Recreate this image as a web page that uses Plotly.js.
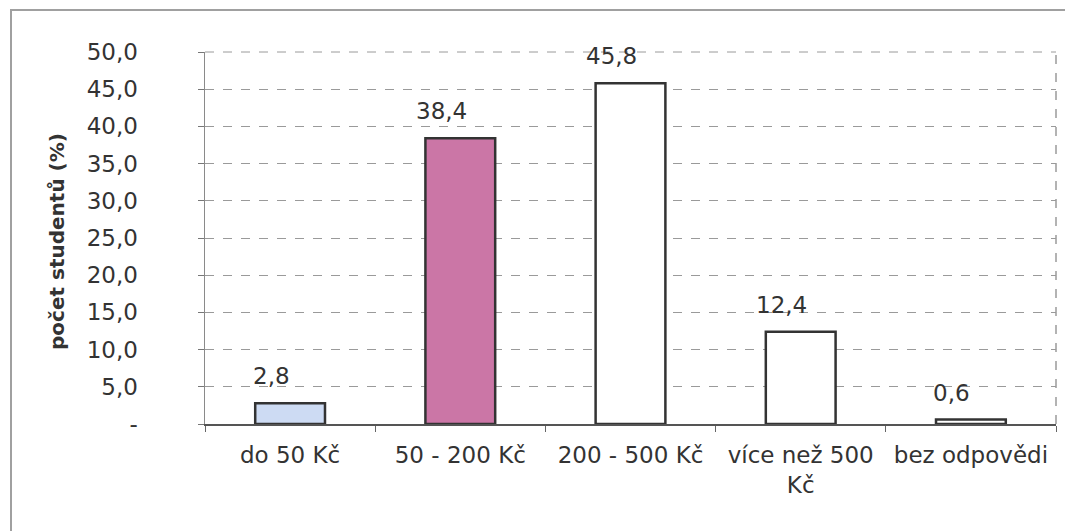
<!DOCTYPE html>
<html>
<head>
<meta charset="utf-8">
<script src="https://cdn.plot.ly/plotly-3.0.1.min.js"></script>
<style>
  html, body { margin: 0; padding: 0; background: #fff; }
  #wrap { position: relative; width: 1065px; height: 531px; }
  #chart { width: 1065px; height: 531px; }
  #frame { position: absolute; left: 10px; top: 9px; width: 1070px; height: 540px;
           border-left: 2px solid #a0a0a0; border-top: 2px solid #a0a0a0; pointer-events: none; }
</style>
</head>
<body>
<div id="wrap">
  <div id="chart"></div>
  <div id="frame"></div>
</div>
<script>
// Útrata studentů – podíl odpovědí v procentech
const categories = ['do 50 Kč', '50 - 200 Kč', '200 - 500 Kč', 'více než 500<br>Kč', 'bez odpovědi'];
const percent = [2.8, 38.4, 45.8, 12.4, 0.6];
const barColors = ['#cddbf3', '#cb76a6', '#ffffff', '#ffffff', '#ffffff'];
const yTickValues = [0, 5, 10, 15, 20, 25, 30, 35, 40, 45, 50];
const yTickLabels = ['-', '5,0', '10,0', '15,0', '20,0', '25,0', '30,0', '35,0', '40,0', '45,0', '50,0'];

const fmt = v => v.toFixed(1).replace('.', ',');
const fontFamily = '"DejaVu Sans", "Liberation Sans", Arial, sans-serif';
const textColor = '#333333';

const trace = {
  type: 'bar',
  x: categories,
  y: percent,
  width: 0.41,
  marker: { color: barColors, line: { color: '#333333', width: 2.5 } },
  hoverinfo: 'none'
};

const valueLabels = categories.map((c, i) => ({
  x: c, y: percent[i], xref: 'x', yref: 'y',
  text: fmt(percent[i]),
  showarrow: false,
  yanchor: 'bottom',
  yshift: 12,
  xshift: -19,
  font: { family: fontFamily, size: 23, color: textColor }
}));

const layout = {
  width: 1065,
  height: 531,
  margin: { l: 205, r: 9, t: 52, b: 107 },
  paper_bgcolor: '#ffffff',
  plot_bgcolor: '#ffffff',
  showlegend: false,
  font: { family: fontFamily, size: 23, color: textColor },
  xaxis: {
    type: 'category',
    showgrid: false,
    showline: true,
    linecolor: '#555555',
    linewidth: 1.5,
    ticks: 'outside',
    tickson: 'boundaries',
    ticklen: 6,
    tickcolor: '#666666',
    ticklabelstandoff: 10,
    tickfont: { family: fontFamily, size: 23, color: textColor },
    fixedrange: true
  },
  yaxis: {
    range: [0, 50],
    tickvals: yTickValues,
    ticktext: yTickLabels,
    showgrid: true,
    gridcolor: '#9a9a9a',
    griddash: 'dash',
    gridwidth: 1,
    zeroline: false,
    showline: true,
    linecolor: '#8a8a8a',
    linewidth: 1.5,
    ticks: 'outside',
    ticklen: 6,
    tickcolor: '#777777',
    ticklabelstandoff: 55,
    tickfont: { family: fontFamily, size: 23, color: textColor },
    fixedrange: true
  },
  shapes: [
    { type: 'line', xref: 'paper', yref: 'paper', x0: 1, x1: 1, y0: 0, y1: 1,
      line: { color: '#9a9a9a', width: 1.5, dash: 'dash' } },
    { type: 'line', xref: 'paper', yref: 'paper', x0: 0, x1: 1, y0: 1, y1: 1,
      line: { color: '#9a9a9a', width: 1, dash: 'dash' } }
  ],
  annotations: valueLabels.concat([{
    xref: 'paper', yref: 'paper', x: 0, y: 0.5,
    xanchor: 'center', yanchor: 'middle',
    xshift: -148,
    yshift: -4,
    textangle: -90,
    showarrow: false,
    text: '<b>počet studentů (%)</b>',
    font: { family: fontFamily, size: 20, color: textColor }
  }])
};

Plotly.newPlot('chart', [trace], layout, { displayModeBar: false, staticPlot: true });
</script>
</body>
</html>
